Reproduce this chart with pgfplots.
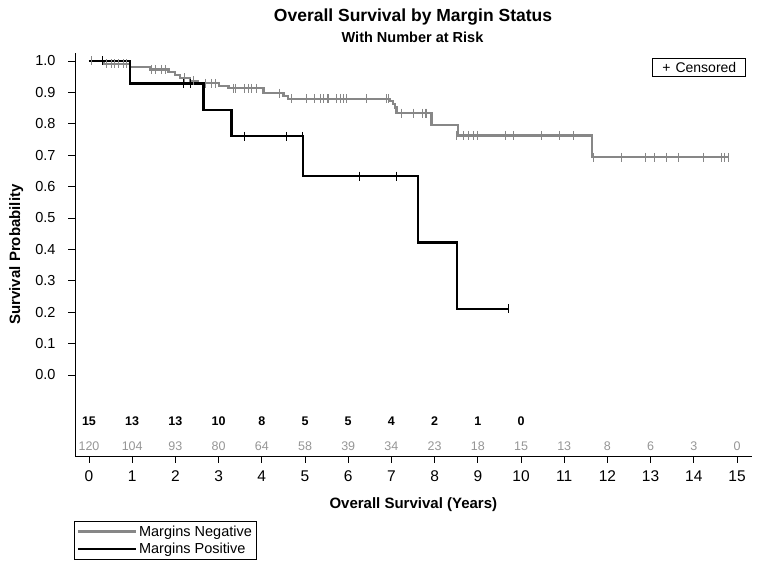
\documentclass[border=0pt]{standalone}
\usepackage{pgfplots}
\pgfplotsset{compat=1.18}
\usepackage{fontspec}
\setmainfont{Liberation Sans}
\definecolor{kmgray}{RGB}{135,135,135}
\definecolor{riskgray}{RGB}{150,150,150}
\begin{document}
\begin{tikzpicture}[x=1pt,y=1pt]
\path[use as bounding box] (0,0) rectangle (762,569);
\begin{axis}[
  at={(75pt,113pt)}, anchor=south west,
  scale only axis, width=676.7pt, height=403pt,
  xmin=-0.324, xmax=15.34, ymin=-0.258, ymax=1.0255,
  axis lines=left, axis line style={-, black, line width=0.8pt},
  clip=false,
  /pgf/number format/assume math mode=true,
  xtick={0,1,2,3,4,5,6,7,8,9,10,11,12,13,14,15},
  ytick={0,0.1,0.2,0.3,0.4,0.5,0.6,0.7,0.8,0.9,1},
  tick align=outside, major tick length=7pt,
  tick style={black, line width=0.8pt},
  xticklabel style={font=\fontsize{15.5}{15.5}\selectfont, yshift=-4pt},
  yticklabel style={font=\fontsize{14.5}{14.5}\selectfont, xshift=-9pt, /pgf/number format/.cd, fixed, fixed zerofill, precision=1},
  xlabel={Overall Survival (Years)},
  ylabel={Survival Probability},
  xlabel style={font=\bfseries\fontsize{15}{15}\selectfont, at={(axis description cs:0.5,-0.121)}, anchor=center},
  ylabel style={font=\bfseries\fontsize{15}{15}\selectfont, at={(axis description cs:-0.087,0.5)}, anchor=center},
  legend style={at={(axis description cs:-0.0015,-0.1605)}, anchor=north west, draw=black, line width=0.8pt,
    font=\fontsize{14.5}{14.5}\selectfont, row sep=1.5pt, inner sep=2.5pt},
  legend cell align=left,
  legend image code/.code={\draw[#1] (0pt,0pt) -- (58pt,0pt);},
]
% Margins Negative
\addplot[const plot, kmgray, line width=2.2pt] coordinates {
(0,1.0) (0.35,0.991) (0.95,0.982) (1.41,0.973) (1.84,0.965) (1.99,0.956) (2.11,0.946)
(2.34,0.937) (2.53,0.929) (3.0,0.921) (3.23,0.913) (4.04,0.897) (4.5,0.889)
(4.61,0.879) (6.97,0.873) (7.03,0.862) (7.08,0.852) (7.12,0.834) (7.93,0.797)
(8.55,0.763) (11.65,0.693) (14.80,0.693)};
\addlegendentry{Margins Negative}
% Margins Positive
\addplot[const plot, black, line width=2.2pt] coordinates {
(0,1.0) (0.95,0.9286) (2.65,0.844) (3.30,0.760) (4.95,0.633) (7.61,0.422) (8.51,0.211) (9.72,0.211)};
\addlegendentry{Margins Positive}
% censored, negative
\addplot[only marks, mark=|, mark size=4.5pt, kmgray, mark options={line width=0.9pt}, forget plot] coordinates {
(0.05,1.0) (0.41,0.991) (0.52,0.991) (0.60,0.991) (0.68,0.991) (0.79,0.991) (0.87,0.991)
(1.45,0.973) (1.53,0.973) (1.68,0.973) (1.78,0.973)
(2.22,0.946) (2.41,0.937) (2.69,0.929) (2.84,0.929) (2.92,0.929) (3.34,0.913) (3.40,0.913)
(3.60,0.913) (3.68,0.913) (3.77,0.913) (3.88,0.913)
(4.42,0.897) (4.69,0.879) (5.04,0.879) (5.23,0.879) (5.35,0.879) (5.42,0.879) (5.51,0.879)
(5.55,0.879) (5.73,0.879) (5.81,0.879) (5.89,0.879) (5.96,0.879) (6.43,0.879) (6.89,0.879) (6.93,0.879)
(7.24,0.834) (7.51,0.834) (7.72,0.834) (7.78,0.834) (7.82,0.834)
(8.51,0.763) (8.66,0.763) (8.78,0.763) (8.90,0.763) (8.99,0.763) (9.63,0.763) (9.82,0.763)
(10.48,0.763) (10.88,0.763) (11.21,0.763)
(11.67,0.693) (12.33,0.693) (12.87,0.693) (13.10,0.693) (13.37,0.693) (13.64,0.693)
(14.22,0.693) (14.65,0.693) (14.72,0.693) (14.80,0.693)};
% censored, positive
\addplot[only marks, mark=|, mark size=4.5pt, black, mark options={line width=0.9pt}, forget plot] coordinates {
(0.31,1.0) (2.18,0.9286) (2.35,0.9286) (3.59,0.76) (4.57,0.76) (4.94,0.76) (6.27,0.633) (7.12,0.633) (9.72,0.211)};
% number at risk
\addplot[draw=none, mark=none, forget plot, nodes near coords, point meta=explicit symbolic,
  every node near coord/.append style={anchor=center, font=\bfseries\fontsize{12.5}{12.5}\selectfont, text=black}]
  coordinates {(0,-0.146)[15] (1,-0.146)[13] (2,-0.146)[13] (3,-0.146)[10] (4,-0.146)[8] (5,-0.146)[5]
  (6,-0.146)[5] (7,-0.146)[4] (8,-0.146)[2] (9,-0.146)[1] (10,-0.146)[0]};
\addplot[draw=none, mark=none, forget plot, nodes near coords, point meta=explicit symbolic,
  every node near coord/.append style={anchor=center, font=\fontsize{12.5}{12.5}\selectfont, text=riskgray}]
  coordinates {(0,-0.226)[120] (1,-0.226)[104] (2,-0.226)[93] (3,-0.226)[80] (4,-0.226)[64] (5,-0.226)[58]
  (6,-0.226)[39] (7,-0.226)[34] (8,-0.226)[23] (9,-0.226)[18] (10,-0.226)[15] (11,-0.226)[13]
  (12,-0.226)[8] (13,-0.226)[6] (14,-0.226)[3] (15,-0.226)[0]};
\end{axis}
\node[font=\bfseries\fontsize{17.5}{17.5}\selectfont] at (413,551.5) {Overall Survival by Margin Status};
\node[font=\bfseries\fontsize{14.5}{14.5}\selectfont] at (412.5,532) {With Number at Risk};
\node[draw, line width=0.8pt, minimum width=93pt, minimum height=18.4pt, inner sep=2pt,
  font=\fontsize{14}{14}\selectfont] at (699.3,501.5) {+\hspace{5pt}Censored};
\end{tikzpicture}
\end{document}
